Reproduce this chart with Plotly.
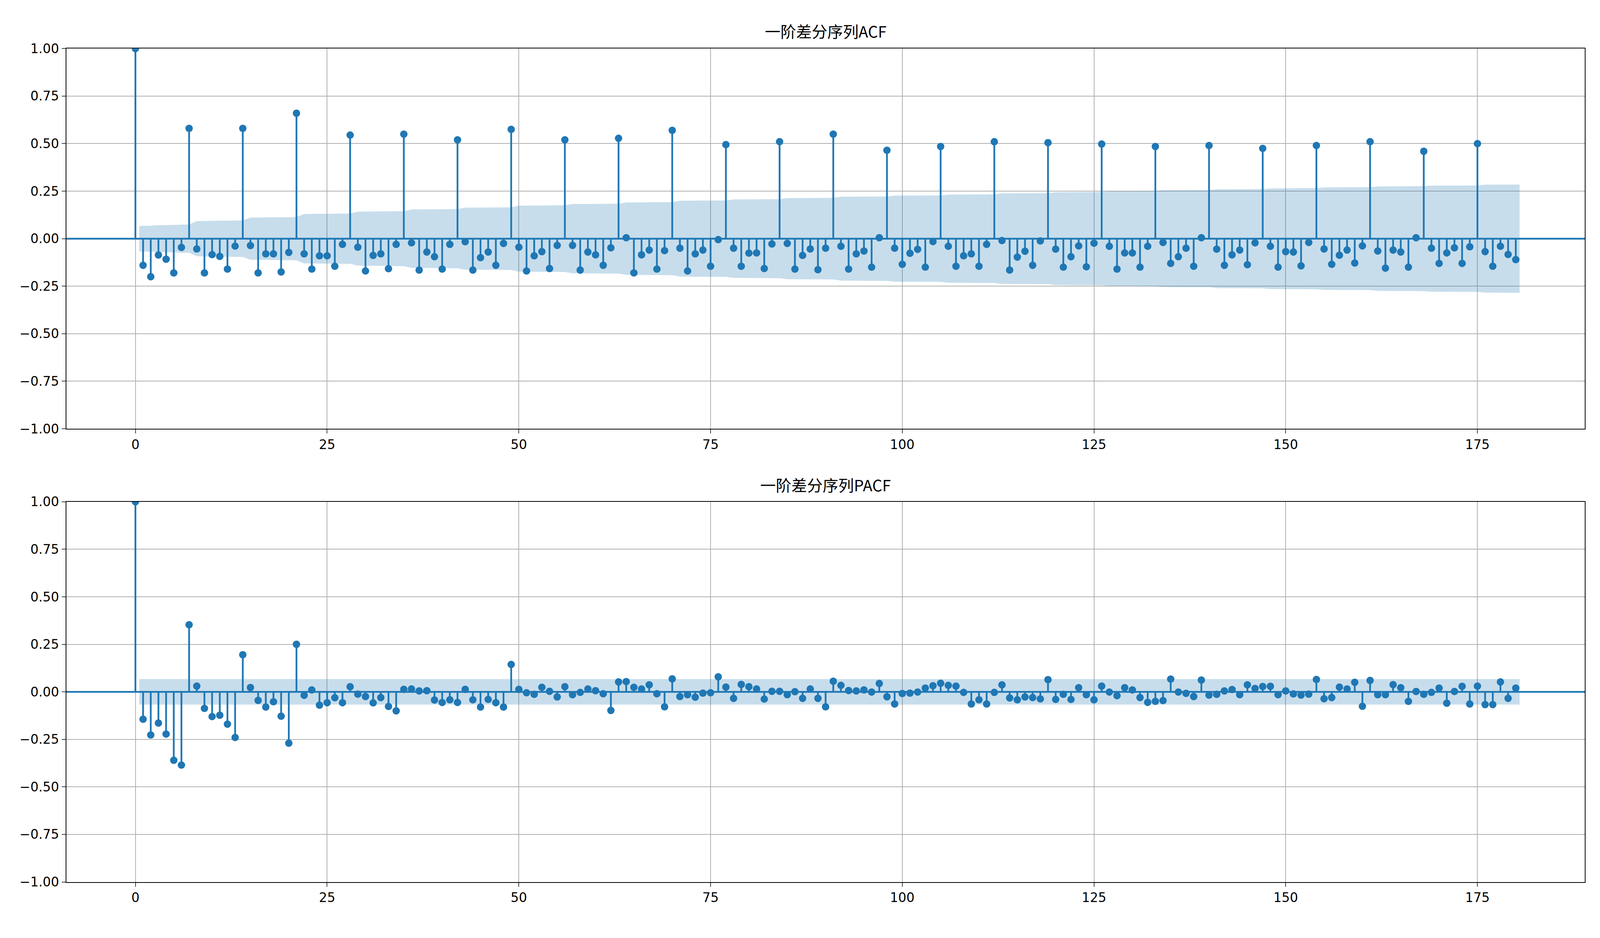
import numpy as np
import plotly.graph_objects as go

# values (lags 0..180)
acf_vals = [1.0,
    -0.14, -0.20, -0.086, -0.108, -0.18, -0.046, 0.58, -0.054, -0.18, -0.084,
    -0.093, -0.16, -0.039, 0.58, -0.036, -0.18, -0.08, -0.08, -0.175, -0.072,
    0.66, -0.08, -0.16, -0.09, -0.09, -0.145, -0.03, 0.545, -0.045, -0.17,
    -0.088, -0.08, -0.158, -0.03, 0.55, -0.022, -0.165, -0.07, -0.095, -0.16,
    -0.03, 0.52, -0.016, -0.165, -0.10, -0.07, -0.14, -0.025, 0.575, -0.045,
    -0.17, -0.09, -0.068, -0.157, -0.035, 0.52, -0.035, -0.165, -0.07, -0.085,
    -0.14, -0.048, 0.528, 0.005, -0.18, -0.085, -0.06, -0.16, -0.063, 0.57,
    -0.05, -0.17, -0.08, -0.06, -0.145, -0.005, 0.495, -0.05, -0.145, -0.076,
    -0.075, -0.157, -0.028, 0.51, -0.025, -0.16, -0.088, -0.054, -0.163, -0.05,
    0.55, -0.04, -0.16, -0.08, -0.065, -0.15, 0.005, 0.465, -0.05, -0.135,
    -0.077, -0.056, -0.15, -0.015, 0.485, -0.04, -0.145, -0.09, -0.08, -0.145,
    -0.03, 0.51, -0.01, -0.165, -0.097, -0.066, -0.14, -0.012, 0.505, -0.055,
    -0.15, -0.095, -0.038, -0.148, -0.024, 0.498, -0.04, -0.16, -0.075, -0.075,
    -0.15, -0.04, 0.485, -0.02, -0.13, -0.095, -0.05, -0.145, 0.005, 0.49,
    -0.055, -0.14, -0.085, -0.06, -0.137, -0.022, 0.475, -0.04, -0.15, -0.068,
    -0.07, -0.143, -0.02, 0.49, -0.054, -0.135, -0.087, -0.06, -0.128, -0.038,
    0.51, -0.065, -0.155, -0.06, -0.07, -0.15, 0.005, 0.46, -0.05, -0.13,
    -0.075, -0.048, -0.13, -0.043, 0.50, -0.068, -0.145, -0.04, -0.083, -0.11]

pacf_vals = [1.0,
    -0.144, -0.227, -0.164, -0.222, -0.36, -0.385, 0.353, 0.03, -0.087, -0.13,
    -0.123, -0.17, -0.24, 0.195, 0.023, -0.045, -0.08, -0.052, -0.128, -0.27,
    0.25, -0.018, 0.01, -0.07, -0.057, -0.031, -0.057, 0.027, -0.012, -0.025,
    -0.058, -0.03, -0.077, -0.10, 0.013, 0.015, 0.005, 0.006, -0.043, -0.056,
    -0.042, -0.056, 0.013, -0.042, -0.08, -0.04, -0.057, -0.08, 0.144, 0.013,
    -0.005, -0.013, 0.024, 0.003, -0.027, 0.027, -0.015, -0.003, 0.015, 0.006,
    -0.01, -0.098, 0.052, 0.054, 0.024, 0.015, 0.037, -0.01, -0.079, 0.068,
    -0.025, -0.015, -0.028, -0.007, -0.005, 0.079, 0.025, -0.034, 0.039, 0.027,
    0.015, -0.038, 0.003, 0.003, -0.015, 0.001, -0.034, 0.015, -0.034, -0.079,
    0.056, 0.034, 0.007, 0.005, 0.01, -0.001, 0.044, -0.026, -0.064, -0.009,
    -0.007, -0.001, 0.02, 0.032, 0.045, 0.034, 0.03, -0.003, -0.064, -0.042,
    -0.064, -0.003, 0.037, -0.032, -0.042, -0.027, -0.03, -0.037, 0.064, -0.04,
    -0.013, -0.04, 0.022, -0.015, -0.042, 0.03, -0.001, -0.02, 0.022, 0.01,
    -0.03, -0.055, -0.05, -0.046, 0.067, -0.001, -0.008, -0.025, 0.062, -0.017,
    -0.013, 0.005, 0.012, -0.015, 0.037, 0.018, 0.028, 0.029, -0.015, 0.005,
    -0.011, -0.017, -0.012, 0.065, -0.036, -0.03, 0.025, 0.015, 0.05, -0.076,
    0.06, -0.015, -0.015, 0.038, 0.022, -0.05, 0.002, -0.013, -0.003, 0.02,
    -0.06, 0.002, 0.029, -0.064, 0.03, -0.067, -0.067, 0.052, -0.034, 0.02]

titles = ["一阶差分序列ACF", "一阶差分序列PACF"]
n_obs = 855
C = "#1f77b4"

lags = np.arange(len(acf_vals))
acf = np.array(acf_vals)
pacf = np.array(pacf_vals)

# Bartlett band for ACF, constant band for PACF
cum = np.concatenate([[0], np.cumsum(acf[1:-1] ** 2)])
acf_band = 1.96 * np.sqrt((1 + 2 * cum) / n_obs)
pacf_band = np.full(len(lags) - 1, 1.96 / np.sqrt(n_obs))
band_x = lags[1:].astype(float)
band_x[0] -= 0.5
band_x[-1] += 0.5

fig = go.Figure()
axes = [("x", "y"), ("x2", "y2")]
for (xa, ya), vals, band in zip(axes, [acf, pacf], [acf_band, pacf_band]):
    fig.add_trace(go.Scatter(x=band_x, y=band, xaxis=xa, yaxis=ya, mode="lines",
                             line=dict(width=0), hoverinfo="skip", showlegend=False))
    fig.add_trace(go.Scatter(x=band_x, y=-band, xaxis=xa, yaxis=ya, mode="lines",
                             line=dict(width=0), fill="tonexty",
                             fillcolor="rgba(31,119,180,0.25)", hoverinfo="skip", showlegend=False))
    sx, sy = [], []
    for k, v in zip(lags, vals):
        sx += [k, k, None]
        sy += [0, v, None]
    fig.add_trace(go.Scatter(x=sx, y=sy, xaxis=xa, yaxis=ya, mode="lines",
                             line=dict(color=C, width=4.5), showlegend=False))
    fig.add_trace(go.Scatter(x=lags, y=vals, xaxis=xa, yaxis=ya, mode="markers",
                             marker=dict(color=C, size=19), showlegend=False))
    fig.add_shape(type="line", xref=xa + " domain", yref=ya, x0=0, x1=1, y0=0, y1=0,
                  line=dict(color=C, width=4.5))

tick_font = dict(family="DejaVu Sans", size=33, color="black")
xcommon = dict(range=[-9, 189], tickvals=[0, 25, 50, 75, 100, 125, 150, 175],
               showgrid=True, gridcolor="#b0b0b0", gridwidth=2.4, zeroline=False,
               showline=True, linecolor="black", linewidth=2.4, mirror=True,
               ticks="outside", ticklen=10, tickwidth=2.4, tickfont=tick_font)
ycommon = dict(range=[-1, 1], tickvals=[-1, -0.75, -0.5, -0.25, 0, 0.25, 0.5, 0.75, 1],
               ticktext=["−1.00", "−0.75", "−0.50", "−0.25", "0.00", "0.25", "0.50", "0.75", "1.00"],
               showgrid=True, gridcolor="#b0b0b0", gridwidth=2.4, zeroline=False,
               showline=True, linecolor="black", linewidth=2.4, mirror=True,
               ticks="outside", ticklen=10, tickwidth=2.4, tickfont=tick_font)

fig.update_layout(
    autosize=True, margin=dict(l=0, r=0, t=0, b=0),
    plot_bgcolor="white", paper_bgcolor="white", showlegend=False,
    xaxis=dict(domain=[0.0415, 0.9905], anchor="y", **xcommon),
    yaxis=dict(domain=[0.5434, 0.9554], anchor="x", **ycommon),
    xaxis2=dict(domain=[0.0415, 0.9905], anchor="y2", **xcommon),
    yaxis2=dict(domain=[0.0523, 0.4643], anchor="x2", **ycommon),
)
for title, y in zip(titles, [0.9745, 0.4827]):
    fig.add_annotation(text=title, xref="paper", yref="paper", x=0.516, y=y,
                       showarrow=False, yanchor="middle",
                       font=dict(family="Noto Sans CJK SC", size=40, color="black"))

fig.write_html("out.html", default_width="100vw", default_height="100vh",
               config={"displayModeBar": False},
               post_script="document.body.style.margin='0';document.body.style.overflow='hidden';"
                           "Plotly.Plots.resize(document.getElementById('{plot_id}'));")
